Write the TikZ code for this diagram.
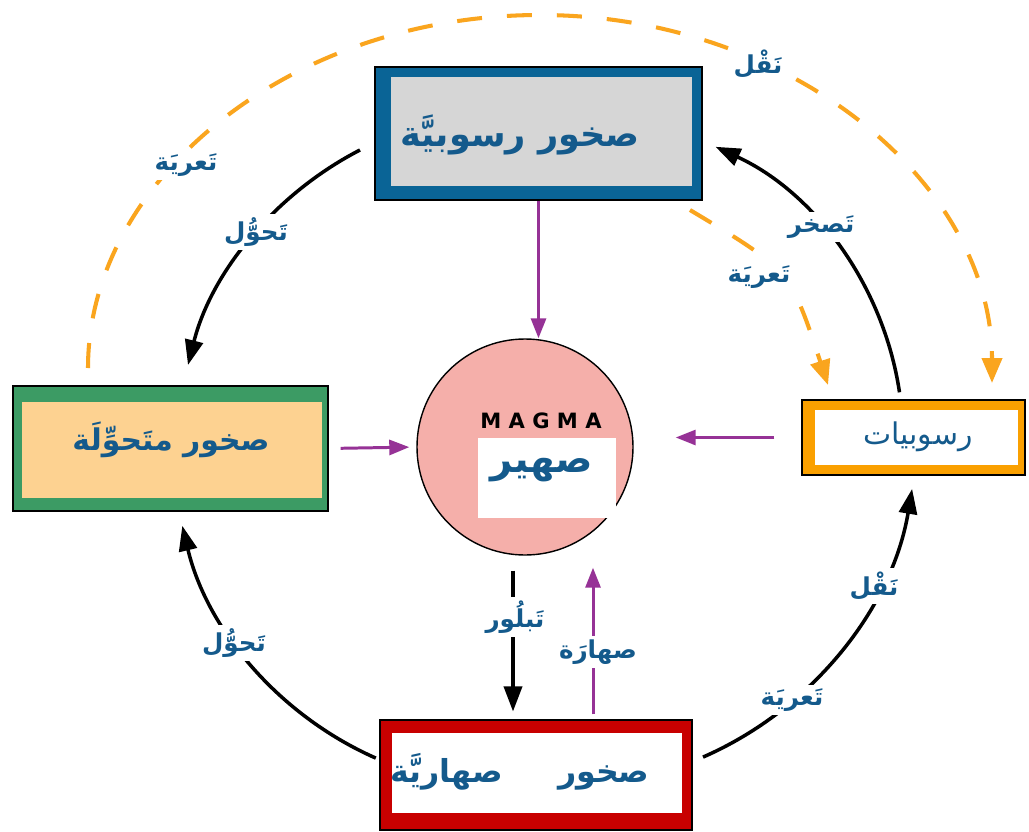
\documentclass[tikz,border=0pt]{standalone}
\usepackage{fontspec}
\usetikzlibrary{arrows.meta}
\TeXXeTstate=1
\newfontfamily\arabicfont[Script=Arabic]{DejaVu Sans}
\newfontfamily\latinfont{DejaVu Sans}
\definecolor{txtblue}{RGB}{20,90,140}
\definecolor{sedblue}{RGB}{10,100,150}
\definecolor{sedgray}{RGB}{214,214,214}
\definecolor{metgreen}{RGB}{60,155,100}
\definecolor{metsand}{RGB}{253,210,145}
\definecolor{sediorange}{RGB}{250,160,0}
\definecolor{ignred}{RGB}{200,0,0}
\definecolor{magmapink}{RGB}{245,175,170}
\definecolor{arrpurple}{RGB}{150,50,150}
\definecolor{arrorange}{RGB}{250,165,30}
\newcommand{\ar}[1]{{\arabicfont\beginR #1\endR}}
\def\pxl{0.2mm}

\begin{document}
\begin{tikzpicture}[x=0.2mm, y=-0.2mm,
frame/.style = {rectangle, draw=black, line width=0.6pt, inner sep=0pt},
panel/.style = {rectangle, inner sep=0pt},
boxtxt/.style = {text=txtblue, inner sep=0pt,
            font=\arabicfont\bfseries\fontsize{20}{24}\selectfont},
lbl/.style = {fill=white, inner sep=2pt, text=txtblue,
            font=\arabicfont\bfseries\fontsize{14}{16}\selectfont},
blk/.style = {line width=2pt, -{Triangle[length=5mm, width=3.6mm]}},
prp/.style = {draw=arrpurple, line width=1.7pt,
            -{Triangle[length=4mm, width=3mm]}},
org/.style = {draw=arrorange, line width=2.3pt, dash pattern=on 5mm off 5mm,
            -{Triangle[length=5mm, width=4mm]}}
                ]
    \useasboundingbox[fill=white] (0,0) rectangle (1029,831);

    % orange dashed arcs (drawn first, labels cover them)
    \coordinate (erl) at (88,368);
    \coordinate (top) at (540,15);
    \coordinate (err) at (992,383);
    \draw[org] (erl) .. controls (88,180) and (290,15) .. (top)
               .. controls (790,15) and (992,183) .. (err);
    \coordinate (sedbr) at (690,210);
    \coordinate (sedtip) at (828,385);
    \draw[org] (sedbr) .. controls (790,270) .. (sedtip);

    % boxes
    \node[frame, fill=sedblue, minimum width=327*\pxl, minimum height=133*\pxl] (sed) at (538.5,133.5) {};
    \node[panel, fill=sedgray, minimum width=301*\pxl, minimum height=109*\pxl] (sedin) at (541.5,131.5) {};
    \node[boxtxt] (sedtxt) at (520,135) {\ar{صخور رسوبيَّة}};

    \node[frame, fill=metgreen, minimum width=315*\pxl, minimum height=125*\pxl] (met) at (170.5,448.5) {};
    \node[panel, fill=metsand, minimum width=300*\pxl, minimum height=96*\pxl] (metin) at (172,450) {};
    \node[boxtxt, font=\arabicfont\bfseries\fontsize{17}{20}\selectfont] (mettxt) at (171,440) {\ar{صخور متَحوِّلَة}};

    \node[frame, fill=sediorange, minimum width=223*\pxl, minimum height=75*\pxl] (sedi) at (913.5,437.5) {};
    \node[panel, fill=white, minimum width=203*\pxl, minimum height=55*\pxl] (sediin) at (916.5,437.5) {};
    \node[boxtxt, font=\arabicfont\fontsize{17}{20}\selectfont] (seditxt) at (918,437) {\ar{رسوبيات}};

    \node[frame, fill=ignred, minimum width=312*\pxl, minimum height=110*\pxl] (ign) at (536,775) {};
    \node[panel, fill=white, minimum width=290*\pxl, minimum height=80*\pxl] (ignin) at (537,773) {};
    \node[boxtxt, font=\arabicfont\bfseries\fontsize{18}{22}\selectfont] (igntxt) at (520,772) {\ar{صخور\hspace{11mm}صهاريَّة}};

    % magma
    \node[circle, draw=black, line width=0.8pt, fill=magmapink,
          minimum size=216*\pxl, inner sep=0pt] (magma) at (525,447) {};
    \node[font=\latinfont\bfseries\fontsize{12}{14}\selectfont] (magmaen) at (541,421) {M A G M A};
    \node[panel, fill=white, minimum width=138*\pxl, minimum height=80*\pxl] (magmabox) at (547,478) {};
    \node[boxtxt, font=\arabicfont\bfseries\fontsize{22}{26}\selectfont] (magmaar) at (542,470) {\ar{صهير}};

    % purple arrows into the magma
    \draw[prp] (sed.south) -- (sed.south |- magma.north);
    \draw[prp, shorten <=12*\pxl, shorten >=7*\pxl] (met.east) -- (magma.west);
    \draw[prp, shorten <=27*\pxl, shorten >=42*\pxl] (sedi.west) -- (sedi.west -| magma.east);
    \draw[prp, shorten <=5*\pxl] ([xshift=57*\pxl]ign.north) -- ([xshift=57*\pxl, yshift=-12*\pxl]ign.north |- magma.south);

    % black cycle arcs
    \coordinate (sedw) at (360,150);
    \coordinate (metn) at (188,365);
    \coordinate (ignw) at (375.8,758.1);
    \coordinate (mets) at (182.3,525.8);
    \coordinate (igne) at (703,757.1);
    \coordinate (sedibot) at (912.1,488.9);
    \coordinate (seditop) at (899.5,392.3);
    \coordinate (sede) at (715.5,146.8);
    \draw[blk] (sedw) .. controls (274.9,193.9) and (211.5,272.1) .. (metn);
    \draw[blk] (ignw) .. controls (278.5,715.2) and (206.9,629.2) .. (mets);
    \draw[blk] (igne) .. controls (813.3,708.9) and (892.2,607.6) .. (sedibot);
    \draw[blk] (seditop) .. controls (883.4,284.7) and (814.3,192.4) .. (sede);
    \draw[blk, shorten <=15*\pxl, shorten >=8*\pxl] ([xshift=-12*\pxl]magma.south) -- ([xshift=-12*\pxl]magma.south |- ign.north);

    % process labels
    \foreach \n/\x/\y/\t in {l1/186/165/تَعريَة, l2/256/232/تَحوُّل, l3/758/64/نَقْل,
                            l4/821/227/تَصخر, l5/759/277/تَعريَة, l6/874/586/نَقْل,
                            l7/792/700/تَعريَة, l8/234/643/تَحوُّل, l9/515/617/تَبلُور,
                            l10/598/652/صهارَة}
        \node[lbl] (\n) at (\x,\y) {\ar{\t}};
\end{tikzpicture}
\end{document}
